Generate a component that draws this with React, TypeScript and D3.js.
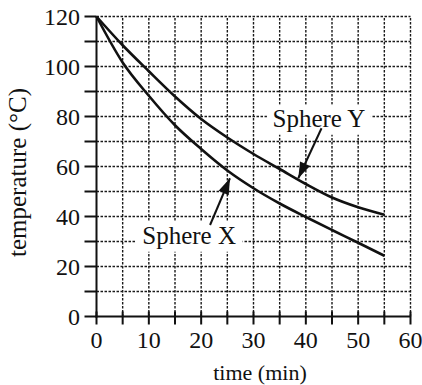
import React from "react";
import * as d3 from "d3";

const time = [0, 5, 10, 15, 20, 25, 30, 35, 40, 45, 50, 55];
const sphereX = [120, 101.6, 88.3, 76.5, 67, 58.4, 51.3, 45.2, 39.8, 34.6, 29.5, 24.3];
const sphereY = [120, 108.5, 98.1, 88, 79, 71.6, 65, 59, 53, 47.6, 43.7, 40.7];
const xTicks = [0, 10, 20, 30, 40, 50, 60];
const yTicks = [0, 20, 40, 60, 80, 100, 120];
const xGrid = [5, 10, 15, 20, 25, 30, 35, 40, 45, 50, 55, 60];
const yGrid = [10, 20, 30, 40, 50, 60, 70, 80, 90, 100, 110, 120];
const yMinor = [10, 30, 50, 70, 90, 110];
const xMinor = [5, 15, 25, 35, 45, 55];

// annotations in data units: label centre/baseline, arrow start, arrow tip
const labels = [
  { text: "Sphere Y", t: 42.5, T: 75.9, from: [43.0, 75.3], to: [38.56, 55.3], w: 104 },
  { text: "Sphere X", t: 17.7, T: 29.1, from: [21.7, 36.6], to: [25.5, 55.3], w: 107 },
];

const W = 422;
const H = 385;
const FONT = "'Liberation Serif', 'Times New Roman', serif";

export default function App() {
  const x = d3.scaleLinear().domain([0, 60]).range([96.5, 410.5]);
  const y = d3.scaleLinear().domain([0, 120]).range([316.5, 16.5]);
  const line = d3
    .line<number>()
    .x((_, i) => x(time[i]))
    .y((d) => y(d))
    .curve(d3.curveMonotoneX);

  const arrowHead = (fx: number, fy: number, tx: number, ty: number) => {
    const dx = tx - fx;
    const dy = ty - fy;
    const len = Math.sqrt(dx * dx + dy * dy);
    const ux = dx / len;
    const uy = dy / len;
    const L = 16;
    const hw = 5.5;
    const bx = tx - ux * L;
    const by = ty - uy * L;
    return `M${tx},${ty}L${bx - uy * hw},${by + ux * hw}L${bx + uy * hw},${by - ux * hw}Z`;
  };

  return (
    <svg
      width={W}
      height={H}
      style={{ position: "absolute", left: 0, top: 0, background: "#fff", fontFamily: FONT }}
    >
      <rect width={W} height={H} fill="#fff" />
      {/* grid */}
      <g stroke="#1a1a1a" strokeWidth={1.4} strokeDasharray="2.5,1.5" fill="none">
        {xGrid.map((v) => (
          <line key={"gx" + v} x1={x(v)} x2={x(v)} y1={y(0)} y2={y(120)} />
        ))}
        {yGrid.map((v) => (
          <line key={"gy" + v} x1={x(0)} x2={x(60)} y1={y(v)} y2={y(v)} />
        ))}
      </g>
      {/* label backgrounds */}
      {labels.map((l) => (
        <rect
          key={"bg" + l.text}
          x={x(l.t) - l.w / 2}
          y={y(l.T) - 22}
          width={l.w}
          height={30}
          fill="#fff"
        />
      ))}
      {/* axes */}
      <g stroke="#111" strokeWidth={2} fill="none">
        <line x1={x(0)} x2={x(0)} y1={y(0) + 1} y2={y(120)} />
        <line x1={x(0) - 1} x2={x(60)} y1={y(0)} y2={y(0)} />
        {yTicks.concat(yMinor).map((v) => (
          <line key={"ty" + v} x1={x(0) - 12} x2={x(0)} y1={y(v)} y2={y(v)} />
        ))}
        {xTicks.concat(xMinor).map((v) => (
          <line key={"tx" + v} x1={x(v)} x2={x(v)} y1={y(0) - 5} y2={y(0) + 8} />
        ))}
      </g>
      {/* tick labels */}
      <g fontSize={24} fill="#111" style={{ fontFamily: FONT }}>
        {yTicks.map((v) => (
          <text key={"ly" + v} x={80} y={y(v)} textAnchor="end" dominantBaseline="central">
            {v}
          </text>
        ))}
        {xTicks.map((v) => (
          <text key={"lx" + v} x={x(v)} y={348} textAnchor="middle">
            {v}
          </text>
        ))}
      </g>
      {/* axis titles */}
      <text x={260} y={380} fontSize={22} textAnchor="middle" fill="#111" style={{ fontFamily: FONT }}>
        time (min)
      </text>
      <text
        transform={`translate(26,${(y(0) + y(120)) / 2 + 6}) rotate(-90)`}
        fontSize={25}
        textAnchor="middle"
        fill="#111"
        style={{ fontFamily: FONT }}
      >
        temperature (°C)
      </text>
      {/* curves */}
      <path d={line(sphereX) || ""} fill="none" stroke="#111" strokeWidth={2.6} />
      <path d={line(sphereY) || ""} fill="none" stroke="#111" strokeWidth={2.6} />
      {/* annotations */}
      {labels.map((l) => {
        const fx = x(l.from[0]);
        const fy = y(l.from[1]);
        const tx = x(l.to[0]);
        const ty = y(l.to[1]);
        return (
          <g key={"an" + l.text}>
            <text
              x={x(l.t)}
              y={y(l.T)}
              fontSize={25}
              textAnchor="middle"
              fill="#111"
              style={{ fontFamily: FONT }}
            >
              {l.text}
            </text>
            <line x1={fx} y1={fy} x2={tx} y2={ty} stroke="#111" strokeWidth={2} />
            <path d={arrowHead(fx, fy, tx, ty)} fill="#111" />
          </g>
        );
      })}
    </svg>
  );
}
